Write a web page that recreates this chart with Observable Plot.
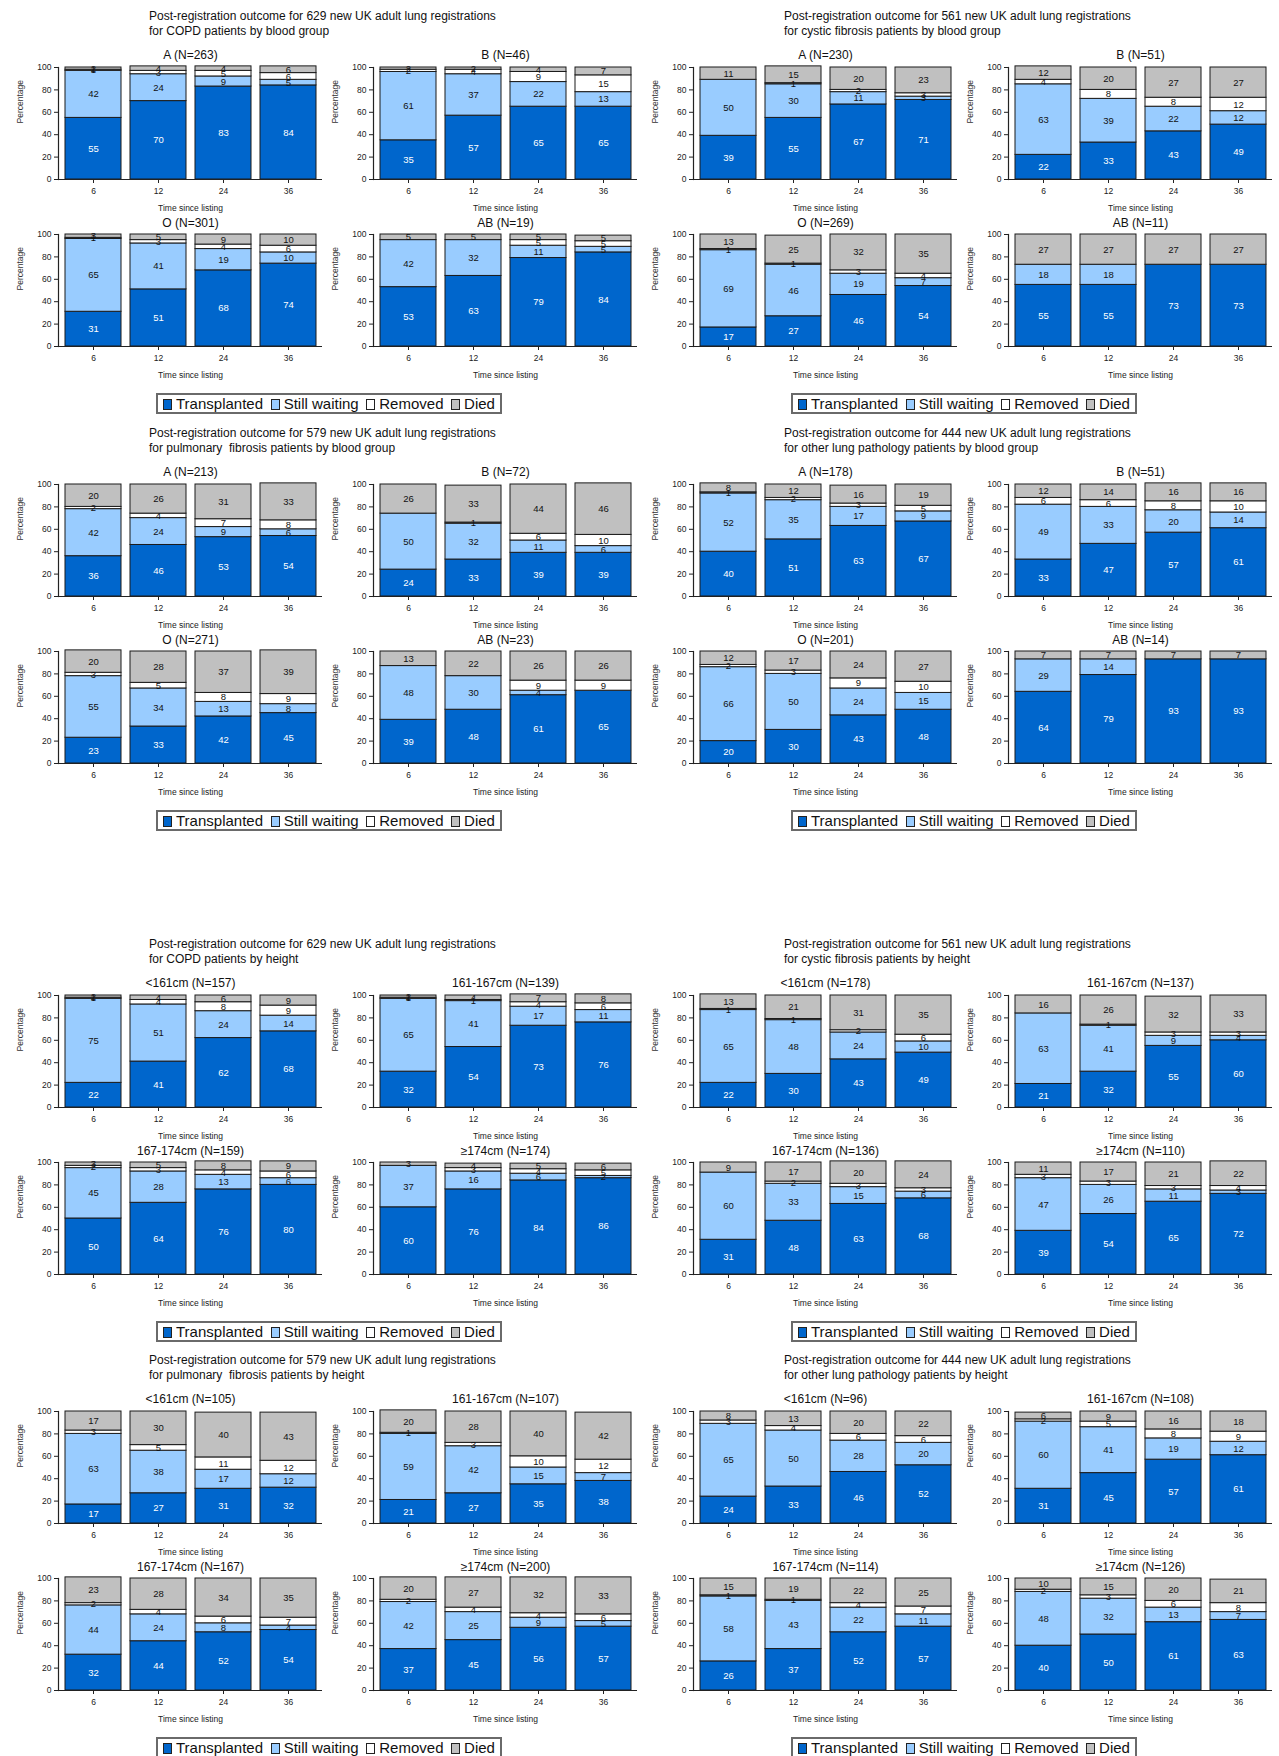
<!DOCTYPE html>
<html><head><meta charset="utf-8">
<script src="https://cdn.jsdelivr.net/npm/d3@7"></script>
<script src="https://cdn.jsdelivr.net/npm/@observablehq/plot@0.6"></script>
<style>
body{margin:0;background:#fff;font-family:"Liberation Sans",Arial,Helvetica,sans-serif;}
#page{position:relative;width:1279px;height:1756px;overflow:hidden;background:#fff;}
.gtitle{position:absolute;font-size:12px;line-height:15px;color:#111;white-space:nowrap;}
.legend{position:absolute;box-sizing:border-box;width:346px;height:21px;border:2px solid #6a6a6a;display:flex;align-items:center;justify-content:space-between;padding:0 5px;font-size:15px;color:#111;white-space:nowrap;transform:translateX(-50%);}
.legend .item{display:flex;align-items:center;}
.sw{display:inline-block;width:7px;height:9px;border:1px solid #222;margin-right:4px;margin-top:1px;}
.panel{position:absolute;}
.panel svg{max-width:none;overflow:visible;}
</style></head><body><div id="page"></div>
<script>
// ---------- data ----------
const times = [6, 12, 24, 36];
const outcomes = ["Transplanted", "Still waiting", "Removed", "Died"];

// COPD by blood group
const g1Title = ["Post-registration outcome for 629 new UK adult lung registrations", "for COPD patients by blood group"];
const g1Panels = ["A (N=263)", "B (N=46)", "O (N=301)", "AB (N=19)"];
const g1Transplanted = [[55,70,83,84],[35,57,65,65],[31,51,68,74],[53,63,79,84]];
const g1Waiting      = [[42,24,9,5],[61,37,22,13],[65,41,19,10],[42,32,11,5]];
const g1Removed      = [[1,3,5,6],[2,4,9,15],[1,3,4,6],[0,0,5,5]];
const g1Died         = [[2,4,4,6],[2,2,4,7],[3,5,9,10],[5,5,5,5]];

// Cystic fibrosis by blood group
const g2Title = ["Post-registration outcome for 561 new UK adult lung registrations", "for cystic fibrosis patients by blood group"];
const g2Panels = ["A (N=230)", "B (N=51)", "O (N=269)", "AB (N=11)"];
const g2Transplanted = [[39,55,67,71],[22,33,43,49],[17,27,46,54],[55,55,73,73]];
const g2Waiting      = [[50,30,11,3],[63,39,22,12],[69,46,19,7],[18,18,0,0]];
const g2Removed      = [[0,1,2,3],[4,8,8,12],[1,1,3,4],[0,0,0,0]];
const g2Died         = [[11,15,20,23],[12,20,27,27],[13,25,32,35],[27,27,27,27]];

// Pulmonary fibrosis by blood group
const g3Title = ["Post-registration outcome for 579 new UK adult lung registrations", "for pulmonary  fibrosis patients by blood group"];
const g3Panels = ["A (N=213)", "B (N=72)", "O (N=271)", "AB (N=23)"];
const g3Transplanted = [[36,46,53,54],[24,33,39,39],[23,33,42,45],[39,48,61,65]];
const g3Waiting      = [[42,24,9,6],[50,32,11,6],[55,34,13,8],[48,30,4,0]];
const g3Removed      = [[2,4,7,8],[0,1,6,10],[3,5,8,9],[0,0,9,9]];
const g3Died         = [[20,26,31,33],[26,33,44,46],[20,28,37,39],[13,22,26,26]];

// Other lung pathology by blood group
const g4Title = ["Post-registration outcome for 444 new UK adult lung registrations", "for other lung pathology patients by blood group"];
const g4Panels = ["A (N=178)", "B (N=51)", "O (N=201)", "AB (N=14)"];
const g4Transplanted = [[40,51,63,67],[33,47,57,61],[20,30,43,48],[64,79,93,93]];
const g4Waiting      = [[52,35,17,9],[49,33,20,14],[66,50,24,15],[29,14,0,0]];
const g4Removed      = [[1,2,3,5],[6,6,8,10],[2,3,9,10],[0,0,0,0]];
const g4Died         = [[8,12,16,19],[12,14,16,16],[12,17,24,27],[7,7,7,7]];

// COPD by height
const g5Title = ["Post-registration outcome for 629 new UK adult lung registrations", "for COPD patients by height"];
const g5Panels = ["<161cm (N=157)", "161-167cm (N=139)", "167-174cm (N=159)", "≥174cm (N=174)"];
const g5Transplanted = [[22,41,62,68],[32,54,73,76],[50,64,76,80],[60,76,84,86]];
const g5Waiting      = [[75,51,24,14],[65,41,17,11],[45,28,13,6],[37,16,6,2]];
const g5Removed      = [[1,4,8,9],[1,1,4,6],[2,3,4,6],[0,3,4,5]];
const g5Died         = [[2,4,6,9],[2,4,7,8],[3,5,8,9],[3,4,5,6]];

// Cystic fibrosis by height
const g6Title = ["Post-registration outcome for 561 new UK adult lung registrations", "for cystic fibrosis patients by height"];
const g6Panels = ["<161cm (N=178)", "161-167cm (N=137)", "167-174cm (N=136)", "≥174cm (N=110)"];
const g6Transplanted = [[22,30,43,49],[21,32,55,60],[31,48,63,68],[39,54,65,72]];
const g6Waiting      = [[65,48,24,10],[63,41,9,4],[60,33,15,6],[47,26,11,3]];
const g6Removed      = [[1,1,2,6],[0,1,3,3],[0,2,3,3],[3,3,3,4]];
const g6Died         = [[13,21,31,35],[16,26,32,33],[9,17,20,24],[11,17,21,22]];

// Pulmonary fibrosis by height
const g7Title = ["Post-registration outcome for 579 new UK adult lung registrations", "for pulmonary  fibrosis patients by height"];
const g7Panels = ["<161cm (N=105)", "161-167cm (N=107)", "167-174cm (N=167)", "≥174cm (N=200)"];
const g7Transplanted = [[17,27,31,32],[21,27,35,38],[32,44,52,54],[37,45,56,57]];
const g7Waiting      = [[63,38,17,12],[59,42,15,7],[44,24,8,4],[42,25,9,5]];
const g7Removed      = [[3,5,11,12],[1,3,10,12],[2,4,6,7],[2,4,4,6]];
const g7Died         = [[17,30,40,43],[20,28,40,42],[23,28,34,35],[20,27,32,33]];

// Other lung pathology by height
const g8Title = ["Post-registration outcome for 444 new UK adult lung registrations", "for other lung pathology patients by height"];
const g8Panels = ["<161cm (N=96)", "161-167cm (N=108)", "167-174cm (N=114)", "≥174cm (N=126)"];
const g8Transplanted = [[24,33,46,52],[31,45,57,61],[26,37,52,57],[40,50,61,63]];
const g8Waiting      = [[65,50,28,20],[60,41,19,12],[58,43,22,11],[48,32,13,7]];
const g8Removed      = [[3,4,6,6],[2,5,8,9],[1,1,4,7],[2,3,6,8]];
const g8Died         = [[8,13,20,22],[6,9,16,18],[15,19,22,25],[10,15,20,21]];

const groups = [
  [g1Title, g1Panels, [g1Transplanted, g1Waiting, g1Removed, g1Died]],
  [g2Title, g2Panels, [g2Transplanted, g2Waiting, g2Removed, g2Died]],
  [g3Title, g3Panels, [g3Transplanted, g3Waiting, g3Removed, g3Died]],
  [g4Title, g4Panels, [g4Transplanted, g4Waiting, g4Removed, g4Died]],
  [g5Title, g5Panels, [g5Transplanted, g5Waiting, g5Removed, g5Died]],
  [g6Title, g6Panels, [g6Transplanted, g6Waiting, g6Removed, g6Died]],
  [g7Title, g7Panels, [g7Transplanted, g7Waiting, g7Removed, g7Died]],
  [g8Title, g8Panels, [g8Transplanted, g8Waiting, g8Removed, g8Died]]
];

// ---------- styles & layout ----------
const FONT = '"Liberation Sans", Arial, Helvetica, sans-serif';
const fillOf = {"Transplanted": "#0066CC", "Still waiting": "#99CCFF", "Removed": "#FFFFFF", "Died": "#C0C0C0"};
const groupCenterY = [16, 16, 433, 433, 944, 944, 1360, 1360];
const groupLeft = [0, 635, 0, 635, 0, 635, 0, 635];
const panelLeft = [0, 315, 0, 315];
const plotTopOffset = [51, 51, 218, 218];
const titleDy = [-12, -12, -11, -11];
const M = {top: 20, bottom: 36, left: 58, right: 4};
const PW = 326, PH = 168;

const page = document.getElementById("page");

function makePanel(title, rows, dy) {
  return Plot.plot({
    width: PW, height: PH,
    marginTop: M.top, marginBottom: M.bottom, marginLeft: M.left, marginRight: M.right,
    style: {fontFamily: FONT, fontSize: "8.5px", color: "#222", background: "transparent", overflow: "visible"},
    x: {domain: times, paddingInner: 0.145, paddingOuter: 0.1, axis: null},
    y: {domain: [0, 100], axis: null},
    color: {type: "identity"},
    marks: [
      Plot.barY(rows, {x: "time", y: "value", fill: d => fillOf[d.outcome], stroke: "#1a1a1a", strokeWidth: 1}),
      Plot.text(rows, Plot.stackY({
        x: "time", y: "value",
        text: d => d.value > 0 ? String(d.value) : "",
        fill: d => d.outcome === "Transplanted" ? "#ffffff" : "#111111",
        fontSize: 9.5
      })),
      Plot.ruleY([0], {stroke: "#222", strokeWidth: 1.2}),
      Plot.frame({anchor: "left", stroke: "#222", strokeWidth: 1.2}),
      Plot.axisY({ticks: [0, 20, 40, 60, 80, 100], tickSize: 4, tickPadding: 3, label: null, fontSize: 8.5}),
      Plot.axisX({tickSize: 4, tickPadding: 4, label: null, fontSize: 8.5}),
      Plot.text([title], {frameAnchor: "top", lineAnchor: "middle", dy: dy, fontSize: 12, fill: "#111"}),
      Plot.text(["Percentage"], {frameAnchor: "left", lineAnchor: "middle", dx: -38, rotate: -90, fontSize: 8.5, fill: "#333"}),
      Plot.text(["Time since listing"], {frameAnchor: "bottom", lineAnchor: "middle", dy: 29, fontSize: 8.5, fill: "#222"})
    ]
  });
}

groups.forEach(([title, panels, series], g) => {
  const cy = groupCenterY[g], gx = groupLeft[g];
  const t = document.createElement("div");
  t.className = "gtitle";
  t.style.left = (gx + 149) + "px";
  t.style.top = (cy - 7.5) + "px";
  t.innerHTML = title.map(s => s.replace(/ {2}/g, " &nbsp;")).join("<br>");
  page.appendChild(t);

  panels.forEach((pt, p) => {
    const rows = times.flatMap((tm, j) => outcomes.map((o, k) => ({time: tm, outcome: o, value: series[k][p][j]})));
    const svg = makePanel(pt, rows, titleDy[p]);
    const wrap = document.createElement("div");
    wrap.className = "panel";
    wrap.style.left = (gx + panelLeft[p]) + "px";
    wrap.style.top = (cy + plotTopOffset[p] - M.top) + "px";
    wrap.appendChild(svg);
    page.appendChild(wrap);
  });

  const lg = document.createElement("div");
  lg.className = "legend";
  lg.style.left = (gx + 329) + "px";
  lg.style.top = (cy + 377) + "px";
  outcomes.forEach(o => {
    const it = document.createElement("span");
    it.className = "item";
    const sw = document.createElement("span");
    sw.className = "sw";
    sw.style.background = fillOf[o];
    it.appendChild(sw);
    it.appendChild(document.createTextNode(o));
    lg.appendChild(it);
  });
  page.appendChild(lg);
});
</script></body></html>
